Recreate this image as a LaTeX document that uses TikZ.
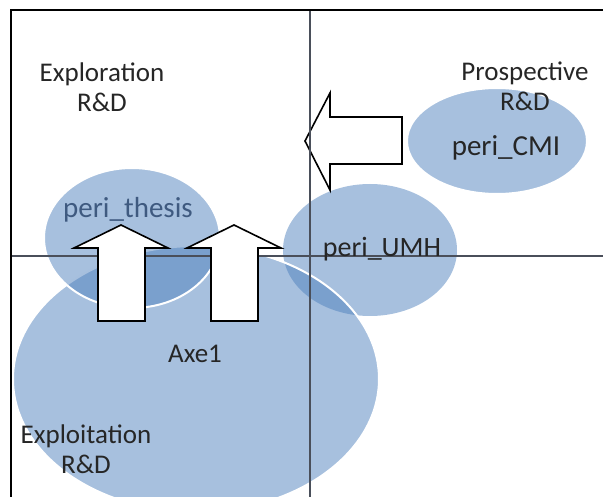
\documentclass[tikz,border=0pt]{standalone}
\usepackage{fontspec}
\setmainfont{Carlito}
\usepackage{xcolor}

\definecolor{officeblue}{HTML}{4F81BD}
\definecolor{txtgray}{HTML}{262626}
\definecolor{thesisblue}{HTML}{3F5A80}
\definecolor{axisgray}{HTML}{4A4F5A}

\tikzset{
	blob/.style = {fill=officeblue, fill opacity=0.5, draw=white, line width=2pt},
	bigarrow/.style = {draw=black, fill=white, line width=1.6pt, line join=miter},
	axisline/.style = {axisgray, line width=1.2pt},
	lbl/.style = {align=center, inner sep=0pt, text=txtgray, font=\fontsize{27}{30}\selectfont}
}

\begin{document}
\begin{tikzpicture}[x = 1pt, y = -1pt]
	\useasboundingbox (0,0) rectangle (603,497);
	
	% the four fields
	\draw[blob] (497,141) ellipse [x radius=90, y radius=53];
	\draw[blob, draw=none] (370,250) ellipse [x radius=87, y radius=66];
	\draw[blob] (196,379) ellipse [x radius=183, y radius=133];
	\draw[blob] (132,238) ellipse [x radius=88, y radius=70];
	
	\draw[axisline] (11,256) -- (603,256);
	
	\draw[bigarrow] (98,321) -- (98,248) -- (74,248) -- (121,225) -- (168,248) -- (145,248) -- (145,321) -- cycle;
	
	\begin{scope}[shift={(113,0)}]
		\draw[bigarrow] (98,321) -- (98,248) -- (74,248) -- (121,225) -- (168,248) -- (145,248) -- (145,321) -- cycle;
	\end{scope}
	
	\draw[bigarrow] (402,117) -- (330,117) -- (330,93) -- (305,141) -- (330,190) -- (330,164) -- (402,164) -- cycle;
	
	\draw[axisline] (310,10) -- (310,497);
	\draw[line width=2pt] (603,10) -- (11,10) -- (11,497);
	
	\node[lbl] (explo) at (102,87) {Exploration\\R\&D};
	\node[lbl] (prosp) at (525,86) {Prospective\\R\&D};
	\node[lbl] (exploit) at (86,449) {Exploitation\\R\&D};
	\node[lbl] (axe) at (195,354) {Axe1};
	\node[lbl, text=thesisblue, font=\fontsize{29}{30}\selectfont] (thesis) at (128,210) {peri\_thesis};
	\node[lbl, text=black!85, font=\fontsize{28}{30}\selectfont] (umh) at (382,249) {peri\_UMH};
	\node[lbl, text=black!85, font=\fontsize{29}{30}\selectfont] (cmi) at (506,148) {peri\_CMI};
\end{tikzpicture}
\end{document}
